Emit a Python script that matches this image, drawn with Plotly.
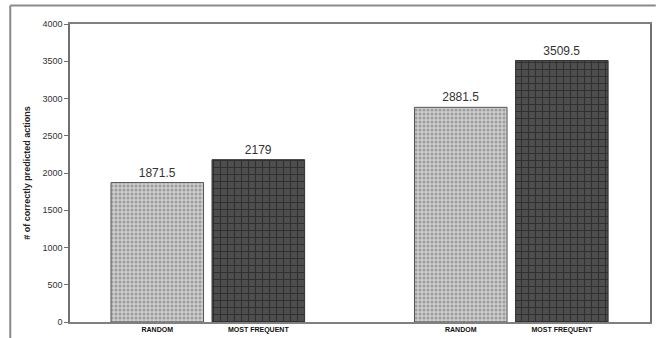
import plotly.graph_objects as go

groups = [0, 1]
series_names = ["RANDOM", "MOST FREQUENT"]
random_vals = [1871.5, 2881.5]
most_frequent_vals = [2179, 3509.5]
value_labels_random = ["1871.5", "2881.5"]
value_labels_mf = ["2179", "3509.5"]
y_ticks = [0, 500, 1000, 1500, 2000, 2500, 3000, 3500, 4000]

bar_w = 0.305
off_random = -0.318
off_mf = 0.015

fig = go.Figure()
fig.add_trace(go.Bar(
    x=groups, y=random_vals, width=bar_w, offset=off_random,
    text=value_labels_random, textposition="outside",
    textfont=dict(family="Arial, Liberation Sans", size=12, color="#333333"),
    marker=dict(color="#c4c4c4",
                line=dict(color="#555555", width=1),
                pattern=dict(shape=".", fgcolor="#6e6e6e", bgcolor="#cdcdcd",
                             size=4, solidity=0.45)),
    cliponaxis=False, showlegend=False))
fig.add_trace(go.Bar(
    x=groups, y=most_frequent_vals, width=bar_w, offset=off_mf,
    text=value_labels_mf, textposition="outside",
    textfont=dict(family="Arial, Liberation Sans", size=12, color="#333333"),
    marker=dict(color="#4a4a4a",
                line=dict(color="#333333", width=1),
                pattern=dict(shape="+", fgcolor="#111111", bgcolor="#4e4e4e",
                             size=7, solidity=0.3)),
    cliponaxis=False, showlegend=False))

tickvals = []
ticktext = []
for g in groups:
    tickvals += [g + off_random + bar_w / 2, g + off_mf + bar_w / 2]
    ticktext += ["<b>" + s + "</b>" for s in series_names]

fig.update_layout(
    width=656, height=338,
    margin=dict(l=70, r=4, t=24, b=14),
    paper_bgcolor="white", plot_bgcolor="white",
    barmode="overlay",
    font=dict(family="Arial, Liberation Sans", color="#333333"),
    xaxis=dict(range=[-0.453, 1.458], tickvals=tickvals, ticktext=ticktext,
               tickfont=dict(family="Liberation Sans Narrow, Arial", size=7, color="#111111"),
               showline=True, linecolor="#808080", linewidth=1.5, mirror=True,
               ticks="", showgrid=False, zeroline=False, ticklabelstandoff=0),
    yaxis=dict(range=[0, 4000], tickvals=y_ticks,
               tickfont=dict(size=9, color="#333333"),
               showline=True, linecolor="#707070", linewidth=1.5, mirror=True,
               ticks="outside", ticklen=4, tickcolor="#707070",
               showgrid=False, zeroline=False,
               title=dict(text="<b># of correctly predicted actions</b>",
                          font=dict(size=9, color="#222222"), standoff=10)),
    shapes=[
        dict(type="line", xref="paper", yref="paper", x0=-0.103, x1=1.01, y0=1.062, y1=1.062,
             line=dict(color="#8a8a8a", width=2)),
        dict(type="line", xref="paper", yref="paper", x0=-0.103, x1=-0.103, y0=1.062, y1=-0.06,
             line=dict(color="#8a8a8a", width=2)),
    ],
)
fig.write_html("out.html")
